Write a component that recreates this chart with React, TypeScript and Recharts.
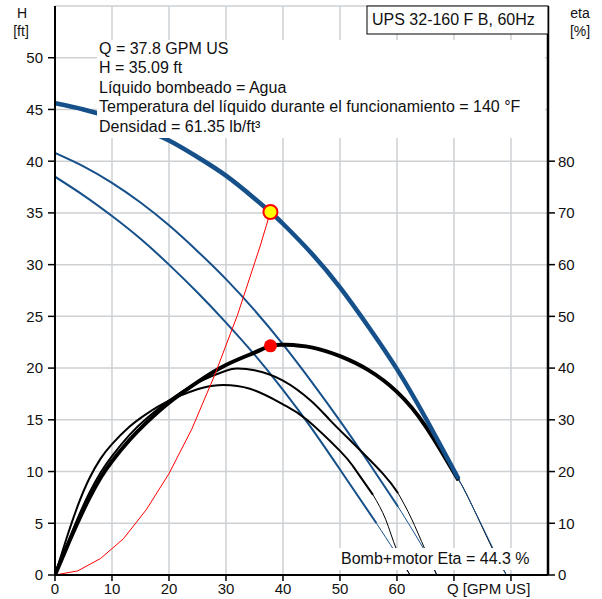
import React from 'react';
import { ComposedChart, Line, XAxis, YAxis, CartesianGrid } from 'recharts';

const FONT = "Arial, 'Liberation Sans', sans-serif";
const BLUE = '#16508a';

// axis ticks
const qTicks = [0, 10, 20, 30, 40, 50, 60, 70, 80];
const headTicks = [0, 5, 10, 15, 20, 25, 30, 35, 40, 45, 50];
const etaTicks = [0, 10, 20, 30, 40, 50, 60, 70, 80];

// [Q GPM, H ft] pump curves, speed 3 is the selected one
const headSpeed3 = [[0, 45.6], [5, 45.0], [10, 44.2], [15, 43.2], [20, 42.0], [25, 40.4], [30, 38.6], [35, 36.4], [37.8, 35.09], [40, 33.95], [45, 31.1], [50, 27.8], [55, 24.0], [60, 19.9], [65, 15.2], [70.8, 9.3]];
const headSpeed3Tail = [[70.8, 9.3], [74, 5.8], [77, 2.4], [79.2, 0]];
const headSpeed2 = [[0, 40.8], [5, 39.5], [10, 37.9], [15, 36.0], [20, 33.8], [25, 31.3], [30, 28.6], [35, 25.6], [40, 22.3], [45, 18.7], [50, 14.9], [55, 10.9], [60.2, 6.6]];
const headSpeed2Tail = [[60.2, 6.6], [64.6, 2.6], [67, 0]];
const headSpeed1 = [[0, 38.5], [5, 36.7], [10, 34.7], [15, 32.5], [20, 30.0], [25, 27.3], [30, 24.4], [35, 21.3], [40, 17.9], [45, 14.2], [50, 10.2], [56.4, 5.0]];
const headSpeed1Tail = [[56.4, 5.0], [59.6, 2.3], [62.3, 0]];

// [Q GPM, eta %]
const etaSpeed3 = [[0, 0], [2, 5.2], [4, 10.2], [6, 14.8], [8, 18.8], [10, 22.0], [13, 26.0], [16, 29.4], [20, 33.3], [25, 37.3], [30, 40.6], [35, 43.0], [37.8, 44.3], [40.5, 44.5], [45, 44.0], [50, 42.3], [55, 39.6], [60, 35.4], [65, 28.8], [70.8, 18.3]];
const etaSpeed3Tail = [[70.8, 18.3], [72.5, 15.0], [76.7, 5.2], [79.2, 0]];
const etaSpeed2 = [[0, 0], [2, 5.6], [4, 11], [6, 15.8], [8, 19.8], [10, 23.0], [13, 27.0], [16, 30.2], [20, 33.7], [25, 37.2], [30, 39.5], [32, 39.9], [35, 39.6], [40, 37.6], [45, 33.6], [48.2, 30], [52, 25.8], [57.6, 19.5], [60.2, 15.8]];
const etaSpeed2Tail = [[60.2, 15.8], [62.5, 11], [64.9, 5], [67, 0]];
const etaSpeed1 = [[0, 0], [2, 7.0], [4, 13.4], [6, 18.6], [8, 22.5], [10, 25.3], [13, 28.6], [16, 31.1], [20, 33.7], [25, 35.9], [28.6, 36.7], [34.2, 36.0], [40, 33.0], [44.2, 30], [50, 24], [52.3, 21], [55.8, 15.5]];
const etaSpeed1Tail = [[55.8, 15.5], [58, 10.8], [59.9, 5], [62.3, 0]];

// system curve [Q GPM, H ft]
const systemCurve = [[0, 0], [4, 0.4], [8, 1.6], [12, 3.5], [16, 6.3], [20, 9.8], [24, 14.1], [28, 19.3], [32, 25.1], [36, 31.8], [37.8, 35.09]];

const dutyHead = [[37.8, 35.09]];
const dutyEta = [[37.8, 44.3]];

const infoLines = [
  'Q = 37.8 GPM US',
  'H = 35.09 ft',
  'Líquido bombeado = Agua',
  'Temperatura del líquido durante el funcionamiento = 140 °F',
  'Densidad = 61.35 lb/ft³',
];
const title = 'UPS 32-160 F B, 60Hz';
const etaNote = 'Bomb+motor Eta = 44.3 %';

const pts = (rows: number[][]) => rows.map(([q, v]) => ({ q, v }));

const QTick = (props: any) => {
  const { x, y, payload } = props;
  if (payload.value === 80) return <g />;
  if (payload.value === 70) {
    return (
      <text x={x - 7} y={y} dy="0.71em" textAnchor="start" fill="#111" fontSize={15} fontFamily={FONT}>
        Q [GPM US]
      </text>
    );
  }
  return (
    <text x={x} y={y} dy="0.71em" textAnchor="middle" fill="#111" fontSize={15} fontFamily={FONT}>
      {payload.value}
    </text>
  );
};

const tickStyle = { fill: '#111', fontSize: 15, fontFamily: FONT };

export default function App() {
  const curve = (rows: number[][], axis: string, color: string, width: number, key: string, type: any = 'natural') => (
    <Line
      key={key}
      data={pts(rows)}
      dataKey="v"
      xAxisId="bottom"
      yAxisId={axis}
      type={type}
      stroke={color}
      strokeWidth={width}
      dot={false}
      activeDot={false}
      isAnimationActive={false}
    />
  );

  return (
    <div style={{ position: 'relative', width: 602, height: 599, background: '#fff' }}>
      <style>{'body{margin:0}'}</style>
      <ComposedChart width={602} height={599} margin={{ top: 6, right: 0, bottom: 0, left: 0 }}>
        <CartesianGrid xAxisId="bottom" yAxisId="left" stroke="#cdd1d4" strokeWidth={1.5} />
        <XAxis
          xAxisId="bottom"
          dataKey="q"
          type="number"
          domain={[0, 86.5]}
          ticks={qTicks}
          height={24}
          axisLine={{ stroke: '#000', strokeWidth: 2 }}
          tickLine={{ stroke: '#000', strokeWidth: 1.5 }}
          tickSize={6}
          tick={<QTick />}
          interval={0}
          allowDataOverflow
        />
        <XAxis
          xAxisId="top"
          orientation="top"
          type="number"
          domain={[0, 86.5]}
          height={0}
          tick={false}
          tickLine={false}
          axisLine={{ stroke: '#000', strokeWidth: 2 }}
        />
        <YAxis
          yAxisId="left"
          type="number"
          domain={[0, 55]}
          ticks={headTicks}
          width={55}
          axisLine={{ stroke: '#000', strokeWidth: 2 }}
          tickLine={{ stroke: '#000', strokeWidth: 1.5 }}
          tickSize={7}
          tickMargin={5}
          tick={tickStyle}
          interval={0}
          allowDataOverflow
        />
        <YAxis
          yAxisId="right"
          orientation="right"
          type="number"
          domain={[0, 110]}
          ticks={etaTicks}
          width={54}
          axisLine={{ stroke: '#000', strokeWidth: 2.5 }}
          tickLine={{ stroke: '#000', strokeWidth: 1.5 }}
          tickSize={7}
          tickMargin={3}
          tick={tickStyle}
          interval={0}
          allowDataOverflow
        />
        {curve(headSpeed1, 'left', BLUE, 2, 'h1')}
        {curve(headSpeed1Tail, 'left', BLUE, 1, 'h1t')}
        {curve(headSpeed2, 'left', BLUE, 2, 'h2')}
        {curve(headSpeed2Tail, 'left', BLUE, 1, 'h2t')}
        {curve(etaSpeed1, 'right', '#000', 2, 'e1')}
        {curve(etaSpeed1Tail, 'right', '#000', 1, 'e1t')}
        {curve(etaSpeed2, 'right', '#000', 2, 'e2')}
        {curve(etaSpeed2Tail, 'right', '#000', 1, 'e2t')}
        {curve(etaSpeed3, 'right', '#000', 4, 'e3')}
        {curve(etaSpeed3Tail, 'right', '#000', 1, 'e3t')}
        {curve(headSpeed3, 'left', BLUE, 4.5, 'h3')}
        {curve(headSpeed3Tail, 'left', BLUE, 1, 'h3t')}
        {curve(systemCurve, 'left', '#ff0000', 1, 'sys', 'linear')}
        <Line
          data={pts(dutyEta)}
          dataKey="v"
          xAxisId="bottom"
          yAxisId="right"
          stroke="none"
          dot={{ r: 6.5, fill: '#ff0000', stroke: '#ff0000', strokeWidth: 0 }}
          activeDot={false}
          isAnimationActive={false}
        />
        <Line
          data={pts(dutyHead)}
          dataKey="v"
          xAxisId="bottom"
          yAxisId="left"
          stroke="none"
          dot={{ r: 7, fill: '#ffff00', stroke: '#ff0000', strokeWidth: 2 }}
          activeDot={false}
          isAnimationActive={false}
        />
      </ComposedChart>
      <svg
        width={602}
        height={599}
        style={{ position: 'absolute', left: 0, top: 0, pointerEvents: 'none' }}
        fontFamily={FONT}
        fill="#111"
      >
        <text x={22} y={18} textAnchor="middle" fontSize={14}>H</text>
        <text x={21} y={35.5} textAnchor="middle" fontSize={14}>[ft]</text>
        <text x={580} y={18} textAnchor="middle" fontSize={14}>eta</text>
        <text x={580} y={35.5} textAnchor="middle" fontSize={14}>[%]</text>
        <rect x={367} y={6} width={181} height={28} fill="#fff" stroke="#000" strokeWidth={1} />
        <text x={372} y={25} fontSize={16}>{title}</text>
        <rect x={97} y={40} width={448} height={98} fill="#fff" />
        {infoLines.map((t, i) => (
          <text key={i} x={99} y={53.5 + i * 19.5} fontSize={16}>{t}</text>
        ))}
        <rect x={338} y={548} width={194} height={22} fill="#fff" />
        <text x={341} y={564} fontSize={16}>{etaNote}</text>
      </svg>
    </div>
  );
}
